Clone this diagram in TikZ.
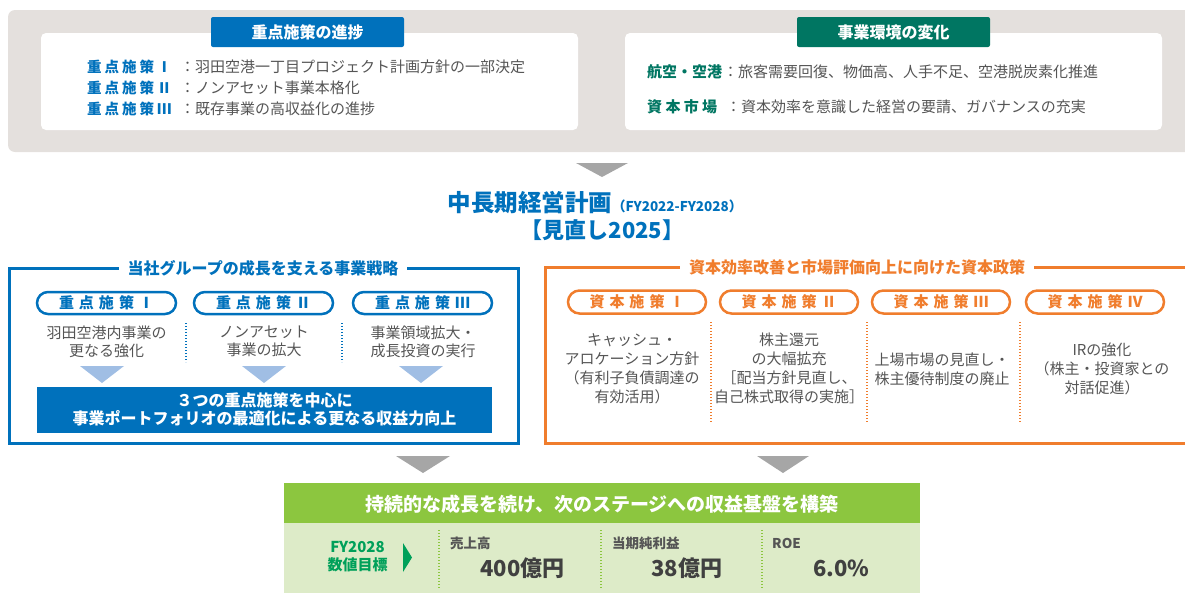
\documentclass[tikz,border=0pt]{standalone}
\usepackage{fontspec}
\setmainfont{Noto Sans CJK JP}
\newfontfamily\fwfont[RawFeature=+fwid]{Noto Sans CJK JP}
\definecolor{cblue}{RGB}{0,113,188}
\definecolor{cteal}{RGB}{0,118,98}
\definecolor{corange}{RGB}{240,125,45}
\definecolor{clblue}{RGB}{160,190,228}
\definecolor{carrow}{RGB}{166,166,166}
\definecolor{cbg}{RGB}{228,224,221}
\definecolor{tgray}{RGB}{85,85,85}
\definecolor{cgreen}{RGB}{140,198,63}
\definecolor{clgreen}{RGB}{221,235,200}
\definecolor{cdgreen}{RGB}{0,160,90}
\definecolor{kpi}{RGB}{64,64,64}
\newcommand\setfs[2]{\fontsize{#1}{#2}\selectfont}
\newcommand\gp{\hspace{3pt}}
\newcommand\gq{\hspace{5pt}}
\newcommand\rn[1]{{\fwfont #1}}
\tikzset{
  txt/.style={inner sep=0pt, text=tgray, font=\setfs{15}{18}},
  desc/.style={inner sep=0pt, text=tgray, align=center, font=\setfs{15}{18}},
  odesc/.style={inner sep=0pt, text=tgray, align=center, font=\setfs{15}{19}},
  bluelab/.style={inner sep=0pt, anchor=west, text=cblue, font=\bfseries\setfs{14.5}{18}},
  teallab/.style={inner sep=0pt, anchor=west, text=cteal, font=\bfseries\setfs{15}{18}},
  tab/.style={inner sep=0pt, text=white, font=\bfseries\setfs{16}{18}},
  pillB/.style={draw=cblue, line width=2.5pt, rounded corners=11pt, minimum width=139pt, minimum height=22pt, inner sep=0pt, text=cblue, font=\bfseries\setfs{15}{18}},
  pillO/.style={draw=corange, line width=2.5pt, rounded corners=11.5pt, minimum width=138pt, minimum height=23pt, inner sep=0pt, text=corange, font=\bfseries\setfs{15}{18}},
  frametitle/.style={fill=white, inner xsep=9pt, inner ysep=2pt, font=\bfseries\setfs{16}{18}},
  dotB/.style={cblue, line width=1.3pt, dash pattern=on 1.3pt off 1.7pt},
  dotO/.style={corange, line width=1.3pt, dash pattern=on 1.3pt off 1.7pt},
  dotG/.style={cgreen, line width=1.3pt, dash pattern=on 1.3pt off 1.7pt},
  kpilab/.style={inner sep=0pt, anchor=west, text=tgray, font=\bfseries\setfs{13.5}{15}},
  kpival/.style={inner sep=0pt, anchor=west, text=kpi, font=\bfseries\setfs{22}{24}},
}
\begin{document}
\begin{tikzpicture}[x=1pt,y=-1pt]
\useasboundingbox (0,0) rectangle (1185,592);
\clip (0,0) rectangle (1185,592);

% ---------- top gray panel ----------
\fill[cbg, rounded corners=7pt] (8,10) rectangle (1200,152);
\fill[white, rounded corners=5pt] (41,33) rectangle (578,130);
\fill[white, rounded corners=5pt] (625,33) rectangle (1162,130);

\fill[cblue, rounded corners=2pt] (211,17) rectangle (404,47);
\node[tab] (tabL) at (307.5,32) {重点施策の進捗};
\fill[cteal, rounded corners=2pt] (797,17) rectangle (990,47);
\node[tab] (tabR) at (893.5,32) {事業環境の変化};

\node[bluelab] (p1) at (87,67) {重\gp 点\gp 施\gp 策\gp \rn{Ⅰ}};
\node[txt, anchor=west] (p1t) at (180,67) {：羽田空港一丁目プロジェクト計画方針の一部決定};
\node[bluelab] (p2) at (87,88) {重\gp 点\gp 施\gp 策\gp \rn{Ⅱ}};
\node[txt, anchor=west] (p2t) at (180,88) {：ノンアセット事業本格化};
\node[bluelab] (p3) at (87,109) {重\gp 点\gp 施\gp 策\gp \rn{Ⅲ}};
\node[txt, anchor=west] (p3t) at (180,109) {：既存事業の高収益化の進捗};

\node[teallab] (e1) at (647,72) {航空・空港};
\node[txt, anchor=west] (e1t) at (723,72) {：旅客需要回復、物価高、人手不足、空港脱炭素化推進};
\node[teallab] (e2) at (647,107) {資\hspace{3.3pt}本\hspace{3.3pt}市\hspace{3.3pt}場};
\node[txt, anchor=west] (e2t) at (726,107) {：資本効率を意識した経営の要請、ガバナンスの充実};

% arrow down
\fill[carrow] (576,163) -- (628,163) -- (602,177) -- cycle;

% ---------- title ----------
\node[inner sep=0pt, text=cblue, font=\bfseries\setfs{23.5}{26}] (title) at (595,203)
  {中長期経営計画{\setfs{13.5}{15}（FY2022-FY2028）}};
\node[inner sep=0pt, text=cblue, font=\bfseries\setfs{22}{26}] (title2) at (602.5,230) {【見直し2025】};

% ---------- left blue frame ----------
\draw[cblue, line width=3pt] (9,268) rectangle (518,443);
\node[frametitle, text=cblue] (lt) at (263,268) {当社グループの成長を支える事業戦略};

\node[pillB] (b1) at (106.5,303) {重\gq 点\gq 施\gq 策\gq \rn{Ⅰ}};
\node[pillB] (b2) at (263.5,303) {重\gq 点\gq 施\gq 策\gq \rn{Ⅱ}};
\node[pillB] (b3) at (422.5,303) {重\gq 点\gq 施\gq 策\gq \rn{Ⅲ}};

\node[desc] (bd1) at (106.5,341.5) {羽田空港内事業の\\更なる強化};
\node[desc] (bd2) at (264,341.5) {ノンアセット\\事業の拡大};
\node[desc] (bd3) at (423,341.5) {事業領域拡大・\\成長投資の実行};
\draw[dotB] (186,323) -- (186,362);
\draw[dotB] (342,323) -- (342,362);

\fill[clblue] (80,366) -- (124,366) -- (102,383) -- cycle;
\fill[clblue] (242,366) -- (286,366) -- (264,383) -- cycle;
\fill[clblue] (399,366) -- (443,366) -- (421,383) -- cycle;

\fill[cblue] (37,387) rectangle (492,433);
\node[inner sep=0pt, text=white, align=center, font=\bfseries\setfs{16}{18.5}] (banner) at (264.5,409.5)
  {３つの重点施策を中心に\\事業ポートフォリオの最適化による更なる収益力向上};

% ---------- right orange frame ----------
\draw[corange, line width=3pt] (1200,443) -- (545,443) -- (545,267) -- (1200,267);
\node[frametitle, text=corange] (rt) at (857,267) {資本効率改善と市場評価向上に向けた資本政策};

\node[pillO] (o1) at (637,302) {資\gq 本\gq 施\gq 策\gq \rn{Ⅰ}};
\node[pillO] (o2) at (789,302) {資\gq 本\gq 施\gq 策\gq \rn{Ⅱ}};
\node[pillO] (o3) at (941,302) {資\gq 本\gq 施\gq 策\gq \rn{Ⅲ}};
\node[pillO] (o4) at (1095,302) {資\gq 本\gq 施\gq 策\gq \rn{Ⅳ}};

\draw[dotO] (711,322) -- (711,422);
\draw[dotO] (867,322) -- (867,422);
\draw[dotO] (1020,322) -- (1020,422);

\node[odesc] (od1) at (632,368.5) {キャッシュ・\\アロケーション方針\\（有利子負債調達の\\有効活用）};
\node[odesc] (od2) at (789,368.5) {株主還元\\の大幅拡充\\［配当方針見直し、\\自己株式取得の実施］};
\node[odesc] (od3) at (942,369) {上場市場の見直し・\\株主優待制度の廃止};
\node[odesc] (od4) at (1102,368.5) {IRの強化\\（株主・投資家との\\対話促進）};

% arrows down
\fill[carrow] (396,456) -- (450,456) -- (423,473) -- cycle;
\fill[carrow] (757,456) -- (809,456) -- (783,473) -- cycle;

% ---------- bottom green panel ----------
\fill[cgreen] (284,483) rectangle (920,523);
\fill[clgreen] (284,523) rectangle (920,600);
\node[inner sep=0pt, text=white, font=\bfseries\setfs{19}{22}] (goal) at (602,504)
  {持続的な成長を続け、次のステージへの収益基盤を構築};

\node[inner sep=0pt, text=cdgreen, align=center, font=\bfseries\setfs{15}{18.5}] (fy) at (357.5,556.5)
  {FY2028\\数値目標};
\fill[cdgreen] (403,543) -- (412,557.5) -- (403,572) -- cycle;

\draw[dotG] (439,530) -- (439,588);
\draw[dotG] (601,530) -- (601,588);
\draw[dotG] (762,530) -- (762,588);

\node[kpilab] (k1) at (450,543) {売上高};
\node[kpival] (v1) at (480,568) {400億円};
\node[kpilab] (k2) at (612,543) {当期純利益};
\node[kpival] (v2) at (651,568) {38億円};
\node[kpilab] (k3) at (772,543) {ROE};
\node[kpival] (v3) at (813,568) {6.0\%};
\end{tikzpicture}
\end{document}
